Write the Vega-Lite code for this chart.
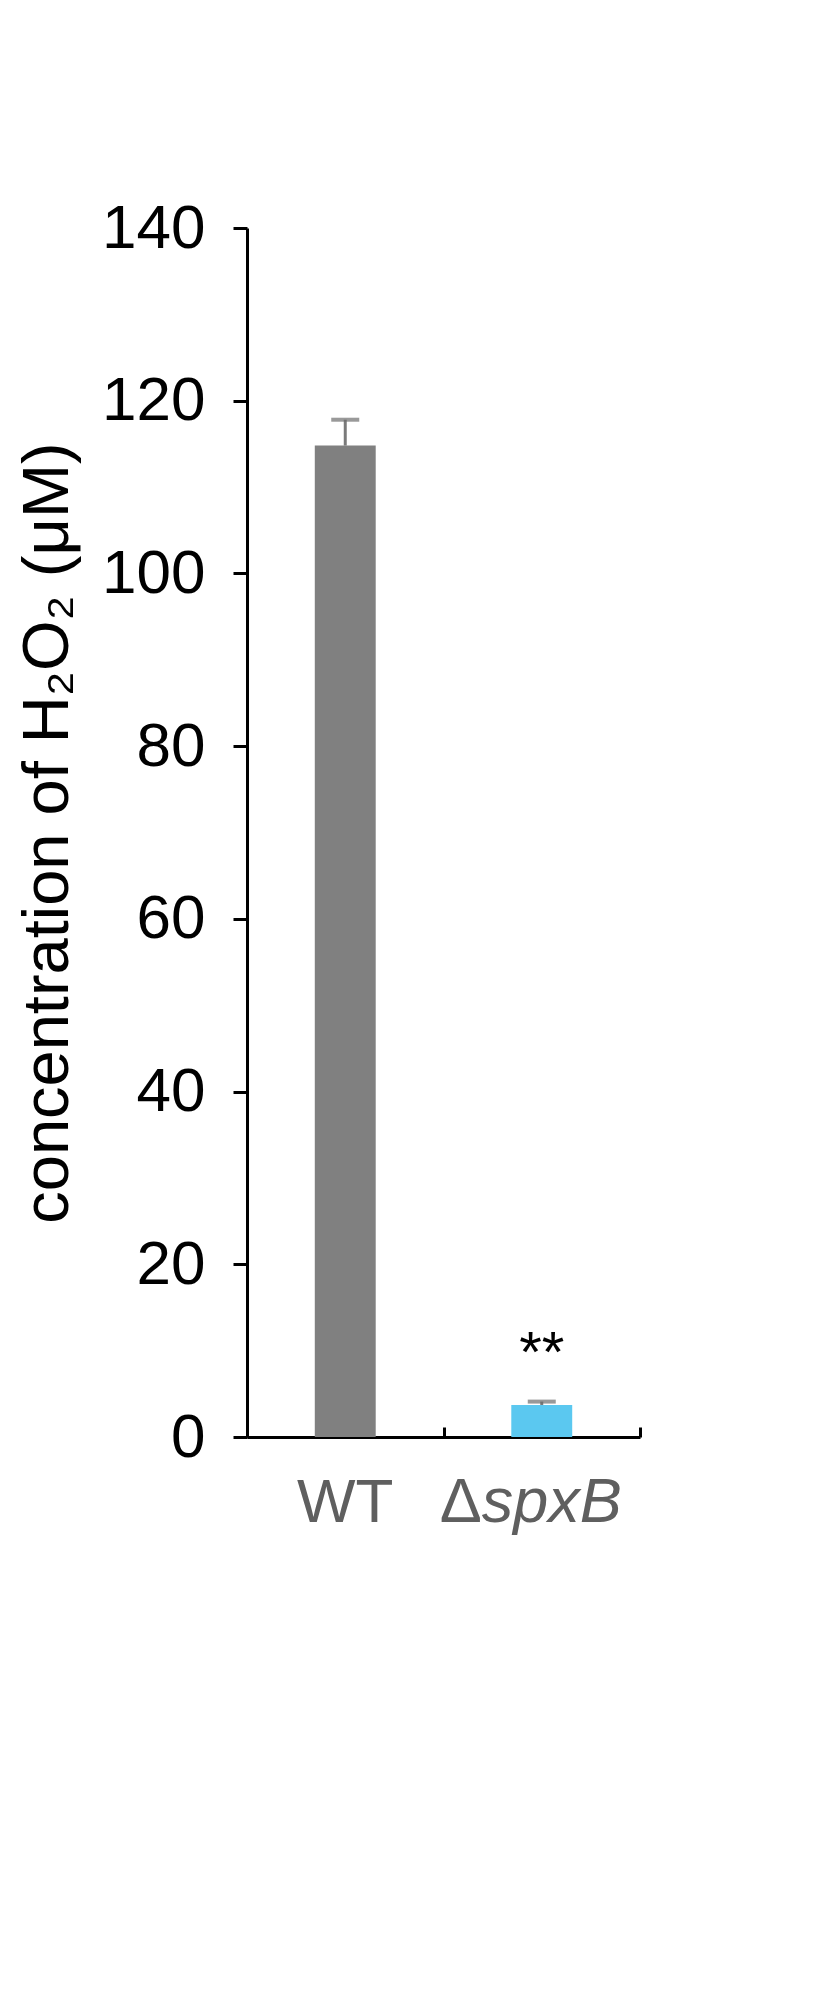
{
  "$schema": "https://vega.github.io/schema/vega-lite/v6.json",
  "autosize": {"type": "none"},
  "padding": {"left": 247, "top": 228, "right": 182, "bottom": 557},
  "width": 393,
  "height": 1209,
  "background": "white",
  "config": {
    "font": "Liberation Sans",
    "view": {"stroke": null}
  },
  "data": {
    "values": [
      {"strain": "WT", "mean": 114.8, "upper": 117.8},
      {"strain": "ΔspxB", "mean": 3.7, "upper": 4.1, "sig": "**"}
    ]
  },
  "encoding": {
    "x": {
      "field": "strain",
      "type": "nominal",
      "sort": ["WT", "ΔspxB"],
      "scale": {"paddingInner": 0, "paddingOuter": 0},
      "axis": {
        "title": null,
        "labels": false,
        "tickBand": "extent",
        "tickSize": -10,
        "tickWidth": 3,
        "tickColor": "black",
        "domainColor": "black",
        "domainWidth": 3
      }
    }
  },
  "layer": [
    {
      "mark": {"type": "rule", "color": "#7a7a7a", "strokeWidth": 3},
      "encoding": {
        "y": {"field": "mean", "type": "quantitative"},
        "y2": {"field": "upper"}
      }
    },
    {
      "mark": {"type": "tick", "color": "#6e6e6e", "thickness": 4, "size": 28},
      "encoding": {
        "y": {"field": "upper", "type": "quantitative"}
      }
    },
    {
      "mark": {"type": "bar", "width": {"band": 0.31}},
      "encoding": {
        "y": {
          "field": "mean",
          "type": "quantitative",
          "scale": {"domain": [0, 140], "nice": false},
          "axis": {
            "title": "concentration of H₂O₂ (μM)",
            "titleFontSize": 65,
            "titleFontWeight": "normal",
            "titleColor": "black",
            "titlePadding": 20,
            "values": [0, 20, 40, 60, 80, 100, 120, 140],
            "labelFontSize": 62,
            "labelColor": "black",
            "labelPadding": 28,
            "tickSize": 14,
            "tickWidth": 3,
            "tickColor": "black",
            "domainColor": "black",
            "domainWidth": 3,
            "grid": false
          }
        },
        "color": {
          "field": "strain",
          "type": "nominal",
          "scale": {"domain": ["WT", "ΔspxB"], "range": ["#808080", "#5bc8f0"]},
          "legend": null
        }
      }
    },
    {
      "transform": [{"filter": "datum.sig"}],
      "mark": {"type": "text", "fontSize": 58, "color": "black", "baseline": "alphabetic", "dy": -30},
      "encoding": {
        "y": {"field": "upper", "type": "quantitative"},
        "text": {"field": "sig"}
      }
    },
    {
      "transform": [{"filter": "datum.strain == 'WT'"}],
      "mark": {"type": "text", "fontSize": 62, "color": "#5f5f5f", "baseline": "alphabetic", "dy": 85},
      "encoding": {
        "y": {"datum": 0, "type": "quantitative"},
        "text": {"field": "strain"}
      }
    },
    {
      "transform": [{"filter": "datum.strain == 'ΔspxB'"}],
      "mark": {"type": "text", "text": "Δ", "fontSize": 63, "color": "#5f5f5f", "align": "right", "baseline": "alphabetic", "dx": -60, "dy": 85},
      "encoding": {
        "y": {"datum": 0, "type": "quantitative"}
      }
    },
    {
      "transform": [{"filter": "datum.strain == 'ΔspxB'"}],
      "mark": {"type": "text", "text": "spxB", "fontSize": 63, "fontStyle": "italic", "color": "#5f5f5f", "align": "left", "baseline": "alphabetic", "dx": -60, "dy": 85},
      "encoding": {
        "y": {"datum": 0, "type": "quantitative"}
      }
    }
  ]
}
